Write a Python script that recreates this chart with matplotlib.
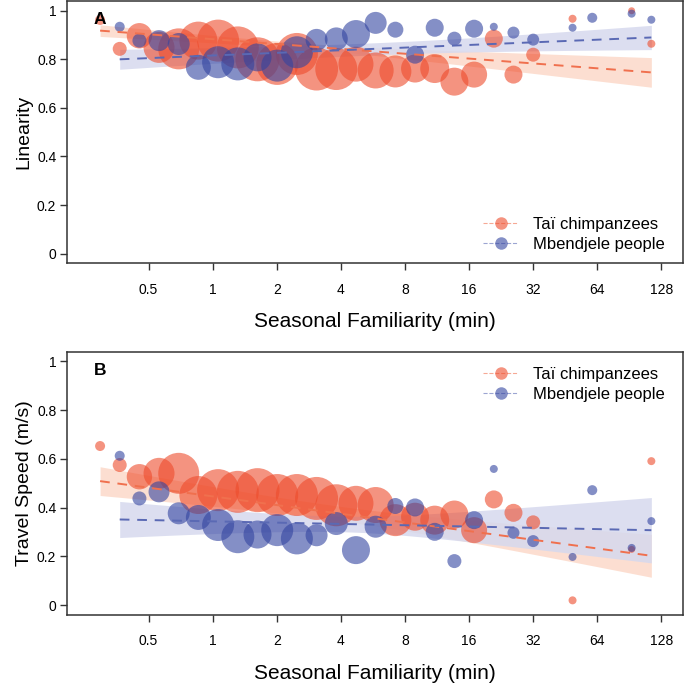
import numpy as np
import matplotlib
matplotlib.use("Agg")
import matplotlib.pyplot as plt
from matplotlib.lines import Line2D

plt.rcParams['font.family'] = ['Liberation Sans', 'DejaVu Sans']

# binned seasonal familiarity (min), one bubble per bin
chimp_x = [0.296, 0.366, 0.453, 0.560, 0.693, 0.857, 1.061, 1.313, 1.625, 2.011,
           2.488, 3.078, 3.810, 4.714, 5.833, 7.220, 8.932, 11.05, 13.67, 16.92,
           20.94, 25.90, 32.06, 49.08, 93.0, 115.1]
chimp_n = [25, 49, 161, 240, 420, 361, 441, 441, 484, 441,
           441, 462, 441, 306, 324, 256, 196, 210, 196, 169,
           81, 81, 49, 16, 12, 16]
chimp_lin = [0.962, 0.843, 0.897, 0.849, 0.843, 0.877, 0.877, 0.849, 0.800, 0.781,
             0.822, 0.760, 0.760, 0.780, 0.754, 0.750, 0.762, 0.762, 0.708, 0.737,
             0.885, 0.737, 0.819, 0.967, 1.000, 0.864]
chimp_speed = [0.653, 0.575, 0.527, 0.541, 0.541, 0.452, 0.472, 0.465, 0.472, 0.452,
               0.452, 0.438, 0.410, 0.418, 0.411, 0.349, 0.363, 0.349, 0.372, 0.308,
               0.434, 0.379, 0.340, 0.020, 0.229, 0.591]

human_x = [0.366, 0.453, 0.560, 0.693, 0.857, 1.061, 1.313, 1.625, 2.011, 2.488,
           3.078, 3.810, 4.714, 5.833, 7.220, 8.932, 11.05, 13.67, 16.92, 20.94,
           25.90, 32.06, 49.08, 60.74, 93.0, 115.1]
human_n = [25, 49, 110, 121, 156, 256, 272, 196, 256, 256,
           121, 132, 196, 121, 64, 81, 81, 49, 81, 16,
           36, 36, 16, 25, 16, 16]
human_lin = [0.934, 0.877, 0.877, 0.863, 0.767, 0.788, 0.781, 0.808, 0.774, 0.829,
             0.880, 0.884, 0.904, 0.950, 0.922, 0.819, 0.930, 0.885, 0.926, 0.934,
             0.910, 0.881, 0.930, 0.971, 0.988, 0.963]
human_speed = [0.613, 0.438, 0.465, 0.377, 0.360, 0.329, 0.281, 0.290, 0.308, 0.274,
               0.287, 0.335, 0.226, 0.322, 0.407, 0.401, 0.301, 0.181, 0.349, 0.559,
               0.297, 0.263, 0.198, 0.472, 0.235, 0.345]

# fitted lines on log2(min): intercept, slope, CI centre, CI min half-width, CI half-width at ends
fit_lin = {'chimp': (0.883, -0.0200, 1.5, 0.012, 0.024, 0.061),
           'human': (0.8157, 0.01084, 2.5, 0.025, 0.041, 0.050)}
fit_speed = {'chimp': (0.4465, -0.0356, 2.0, 0.030, 0.059, 0.088),
             'human': (0.344, -0.0053, 2.0, 0.032, 0.074, 0.134)}

x_ticks = [0.5, 1, 2, 4, 8, 16, 32, 64, 128]
x_ticklabels = ['0.5', '1', '2', '4', '8', '16', '32', '64', '128']
y_ticks = [0, 0.2, 0.4, 0.6, 0.8, 1]
y_ticklabels = ['0', '0.2', '0.4', '0.6', '0.8', '1']

chimp_col = '#EE4B2B'
human_col = '#3344A0'
chimp_line = '#F0704E'
human_line = '#5A69B4'
chimp_band = '#FCD9C9'
human_band = '#D6D9EE'
spine_col = '#333333'
px = 0.72  # points per pixel at dpi 100


def draw_fit(ax, xs, fit, line_col, band_col, z):
    b0, b1, tc, h0, hl, hr = fit
    t = np.linspace(np.log2(min(xs)), np.log2(max(xs)), 200)
    cl = (hl ** 2 - h0 ** 2) / (t[0] - tc) ** 2
    cr = (hr ** 2 - h0 ** 2) / (t[-1] - tc) ** 2
    hw = np.sqrt(h0 ** 2 + np.where(t < tc, cl, cr) * (t - tc) ** 2)
    mid = b0 + b1 * t
    ax.fill_between(2 ** t, mid - hw, mid + hw, color=band_col, alpha=0.85,
                    lw=0, zorder=z)
    return 2 ** t, mid


def panel(ax, chimp_y, human_y, fits, letter, ylabel, leg_loc, leg_anchor):
    ch_line = draw_fit(ax, chimp_x, fits['chimp'], chimp_line, chimp_band, 1)
    hu_line = draw_fit(ax, human_x, fits['human'], human_line, human_band, 1.1)

    ax.scatter(chimp_x, chimp_y, s=np.array(chimp_n) * (2 * px) ** 2,
               color=chimp_col, alpha=0.6, lw=0, zorder=2)
    ax.scatter(human_x, human_y, s=np.array(human_n) * (2 * px) ** 2,
               color=human_col, alpha=0.6, lw=0, zorder=3)

    ax.plot(*ch_line, color=chimp_line, lw=1.4, ls=(0, (5, 4)), zorder=4)
    ax.plot(*hu_line, color=human_line, lw=1.4, ls=(0, (5, 4)), zorder=4)

    ax.set_xscale('log', base=2)
    ax.set_xlim(0.208, 162)
    ax.set_ylim(-0.04, 1.04)
    ax.set_xticks(x_ticks)
    ax.set_xticklabels(x_ticklabels)
    ax.minorticks_off()
    ax.set_yticks(y_ticks)
    ax.set_yticklabels(y_ticklabels)
    ax.tick_params(labelsize=10, length=5, width=1, color=spine_col, direction='out')
    ax.tick_params(axis='x', pad=9)
    ax.tick_params(axis='y', pad=3)
    for sp in ax.spines.values():
        sp.set_color(spine_col)
        sp.set_linewidth(1.1)

    ax.set_xlabel('Seasonal Familiarity (min)', fontsize=15, labelpad=11)
    ax.set_ylabel(ylabel, fontsize=14, labelpad=3)
    ax.text(0.053, 0.93, letter, transform=ax.transAxes, fontsize=12.5,
            fontweight='bold', ha='center', va='center', zorder=5)

    handles = [
        Line2D([], [], color=chimp_line, lw=0.8, ls='--', marker='o', markersize=9,
               markerfacecolor=chimp_col, markeredgewidth=0, alpha=0.6),
        Line2D([], [], color=human_line, lw=0.8, ls='--', marker='o', markersize=9,
               markerfacecolor=human_col, markeredgewidth=0, alpha=0.6),
    ]
    ax.legend(handles, ['Taï chimpanzees', 'Mbendjele people'], loc=leg_loc,
              bbox_to_anchor=leg_anchor, frameon=False, fontsize=12,
              handlelength=2.1, handletextpad=0.9, labelspacing=0.3,
              borderaxespad=0.3)


fig = plt.figure(figsize=(6.85, 6.83), dpi=100)
ax1 = fig.add_axes([0.0985, 0.6145, 0.8985, 0.384])
ax2 = fig.add_axes([0.0985, 0.0996, 0.8985, 0.3855])

panel(ax1, chimp_lin, human_lin, fit_lin, 'A', 'Linearity', 'lower right', (0.99, 0.0))
panel(ax2, chimp_speed, human_speed, fit_speed, 'B', 'Travel Speed (m/s)', 'upper right', (0.99, 0.985))

fig.savefig('out.png', dpi=100)
